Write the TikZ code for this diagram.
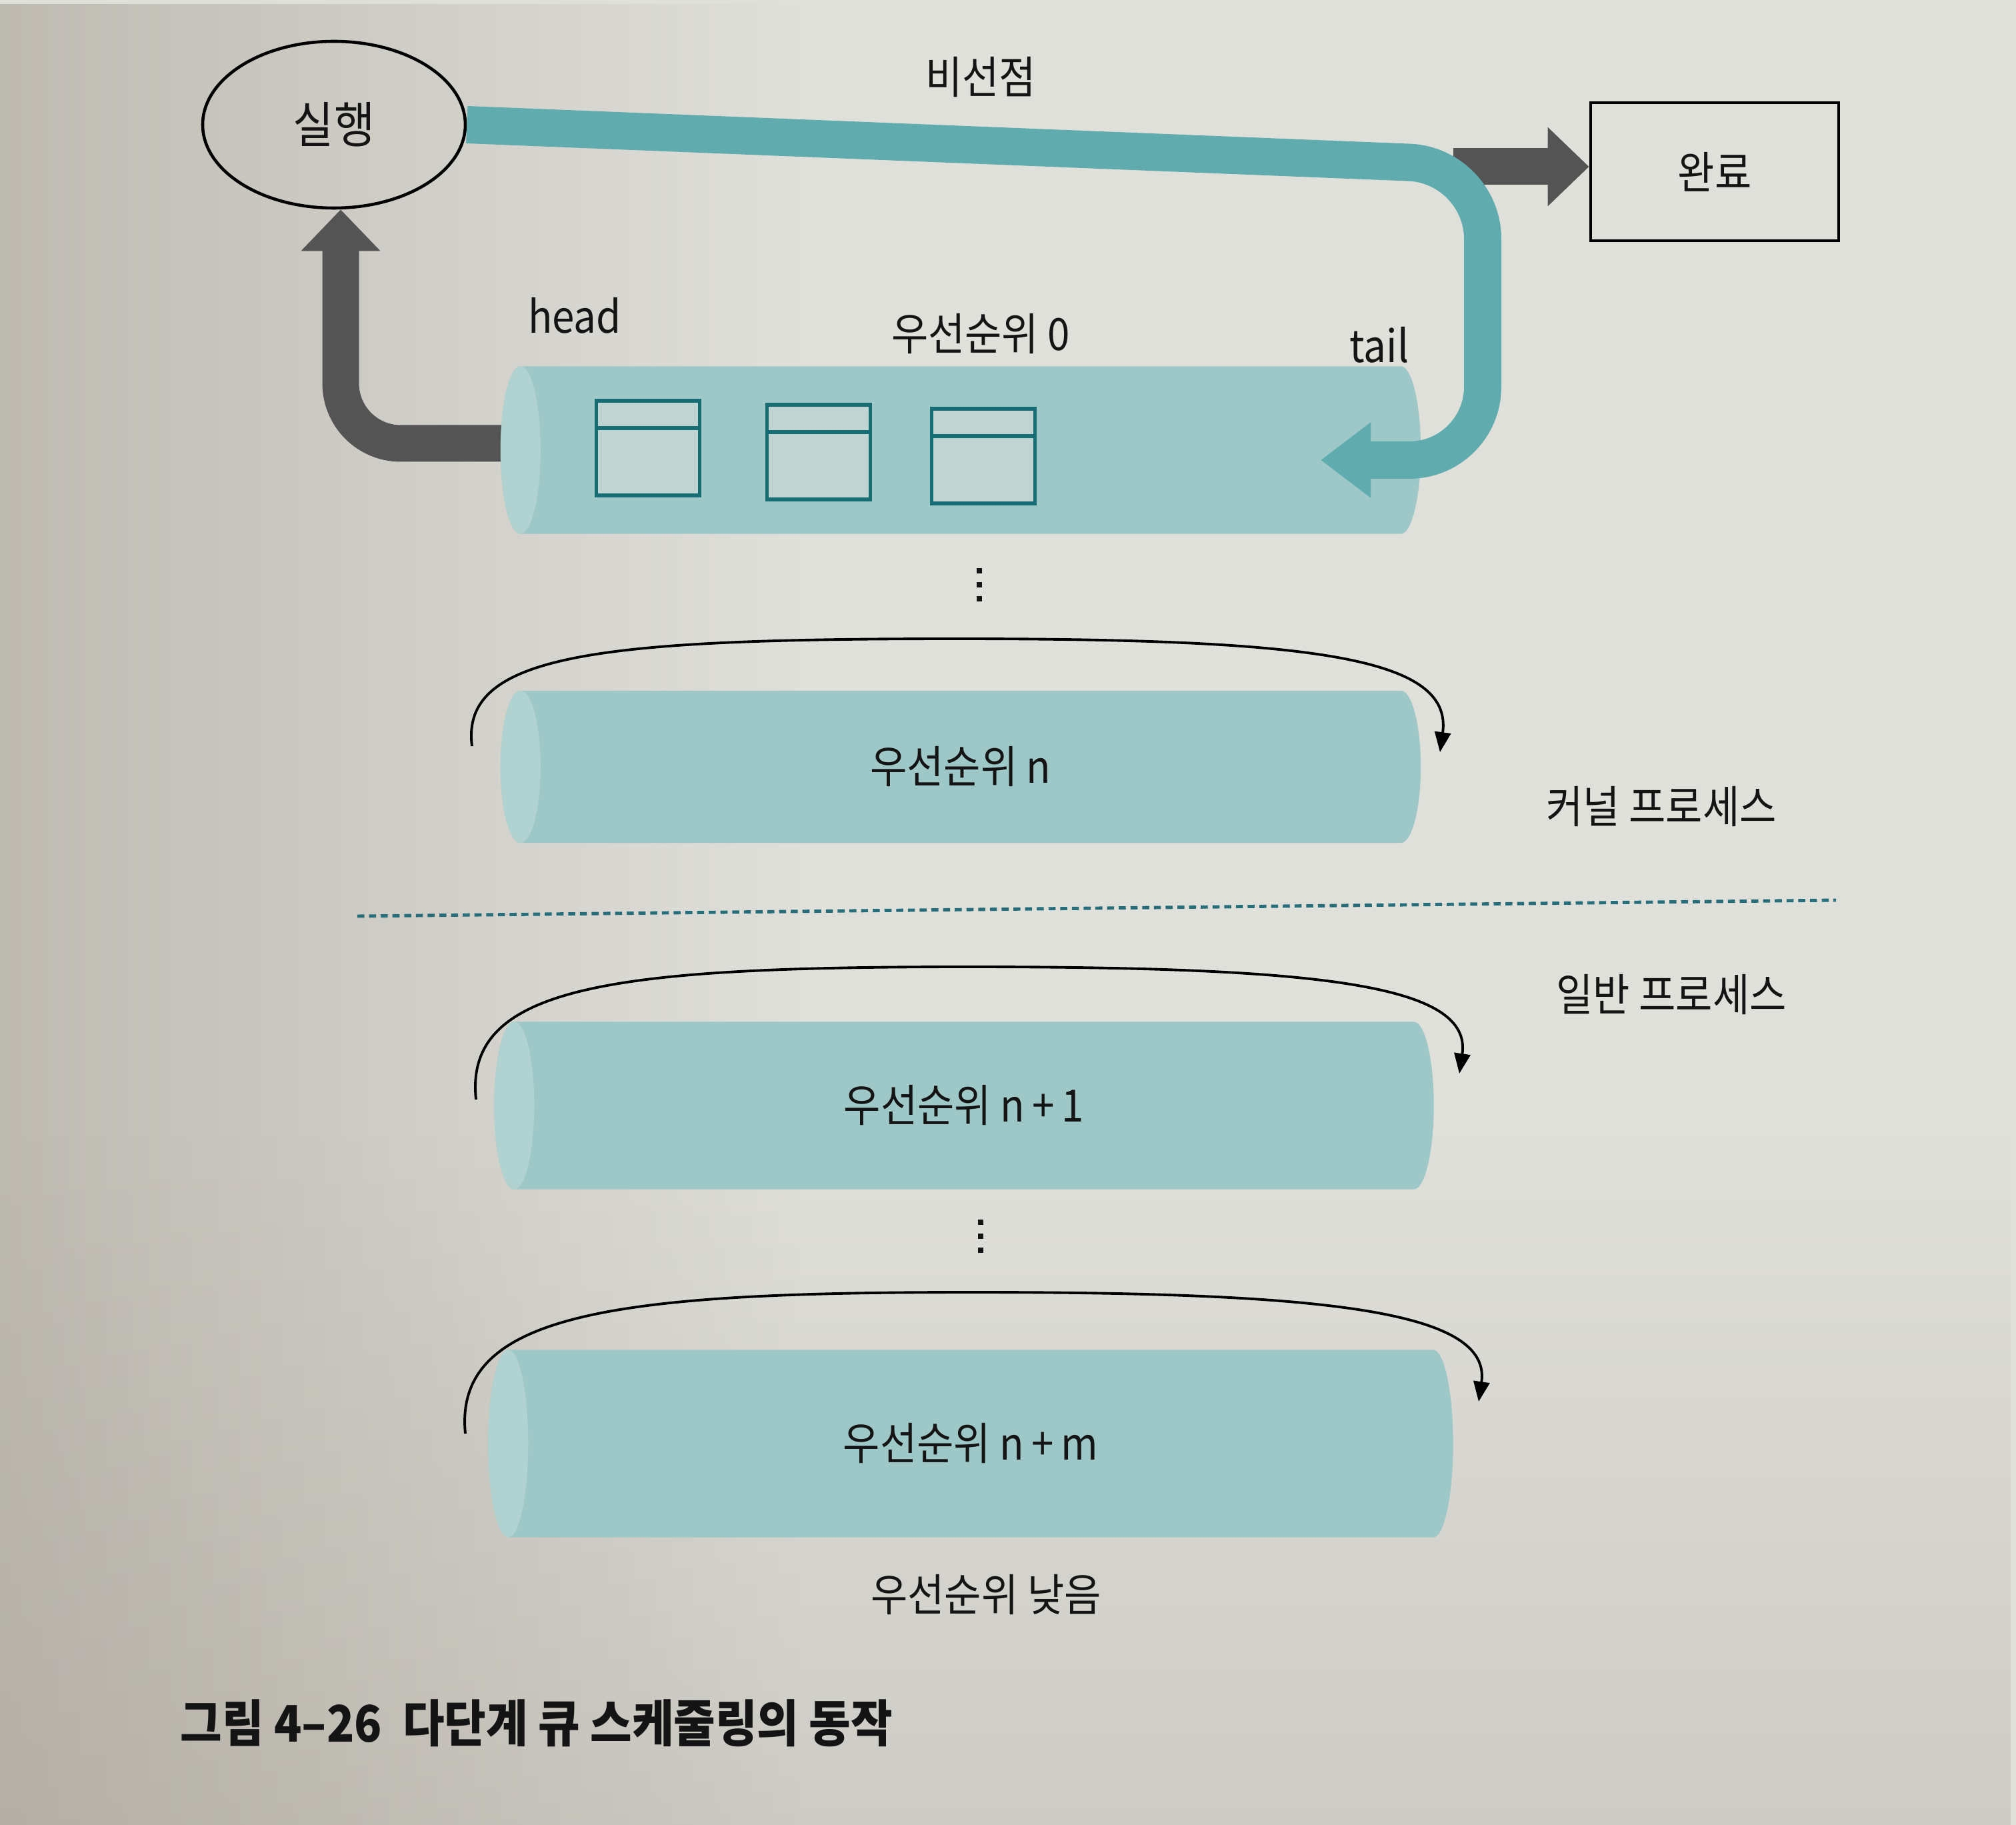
\documentclass[tikz,border=0pt]{standalone}
\usepackage{fontspec}
\setmainfont{Noto Sans CJK KR}[FakeStretch=0.9]
\usetikzlibrary{shapes.geometric,arrows.meta,calc,fadings}
\definecolor{paper}{RGB}{224,224,219}
\definecolor{shadow}{RGB}{150,142,130}
\definecolor{cylfill}{RGB}{158,199,199}
\definecolor{cylface}{RGB}{176,210,209}
\definecolor{tealpath}{RGB}{95,171,174}
\definecolor{darkarrow}{RGB}{84,84,84}
\definecolor{boxline}{RGB}{22,110,116}
\definecolor{boxfill}{RGB}{192,213,210}
\definecolor{dashcol}{RGB}{40,110,122}
\definecolor{txt}{RGB}{20,20,20}
% draws a horizontal cylinder around an (invisible) rectangular node
\newcommand\qcyl[1]{%
  \path let \p1=(#1.north west), \p2=(#1.south east), \n1={0.5*(\y1-\y2)} in
    [fill=cylfill] (\x1,\y1) -- (\x2,\y1)
      arc[start angle=90,end angle=-90,x radius=0.3cm,y radius=\n1]
      -- (\x1,\y2)
      arc[start angle=270,end angle=90,x radius=0.3cm,y radius=\n1] -- cycle;
  \path let \p1=(#1.north west), \p2=(#1.south east), \n1={0.5*(\y1-\y2)} in
    [fill=cylface] (\x1,\y1)
      arc[start angle=90,end angle=-90,x radius=0.3cm,y radius=\n1]
      arc[start angle=270,end angle=90,x radius=0.3cm,y radius=\n1] -- cycle;
}
\begin{document}
\begin{tikzpicture}[
  lbl/.style={font=\fontsize{19}{22}\selectfont, text=txt, inner sep=0pt},
  qbox/.style={draw=none, inner sep=0pt},
  slot/.style={draw=boxline, line width=1.6pt, fill=boxfill, minimum width=1.55cm, minimum height=1.42cm, inner sep=0pt},
  tealflow/.style={draw=tealpath, line width=0.56cm, rounded corners=1.1cm, -{Triangle[length=0.75cm,width=1.08cm]}},
  grayflow/.style={draw=darkarrow, line width=0.55cm, -{Triangle[length=0.62cm,width=1.15cm]}},
  cycarrow/.style={draw=black, line width=1.1pt, -{Triangle[length=0.3cm,width=0.24cm]}},
  dotsq/.style={fill=txt, draw=none, minimum size=0.085cm, inner sep=0pt}
]
% background / bounding box (paper with slightly darker left and bottom)
\fill[paper] (0,0) rectangle (30.24,-27.37);
\fill[shadow, fill opacity=0.45, path fading=east] (0,0) rectangle (12,-27.37);
\fill[shadow, fill opacity=0.25, path fading=north] (0,-27.37) rectangle (30.24,-17);
\useasboundingbox (0,0) rectangle (30.24,-27.37);

% nodes: run / done
\node[ellipse, draw=black, line width=1.3pt, minimum width=3.94cm, minimum height=2.5cm,
      font=\fontsize{21}{24}\selectfont, text=txt] (run) at (5.01,-1.87) {실행};
\node[draw=black, line width=1.4pt, minimum width=3.72cm, minimum height=2.07cm,
      font=\fontsize{19}{22}\selectfont, text=txt] (done) at (25.72,-2.575) {완료};

% queue 0 frame
\node[qbox, minimum width=13.19cm, minimum height=2.5cm] (q0) at (14.41,-6.75) {};

% gray arrow head -> run (behind queue 0)
\draw[grayflow, rounded corners=0.9cm] ([shift={(0.3,0.1)}]q0.west) -| ([xshift=0.1cm]run.south);

% queue 0 body and slots
\qcyl{q0}
\node[slot] (s1) at (9.72,-6.72) {};
\node[slot] (s2) at (12.28,-6.78) {};
\node[slot] (s3) at (14.75,-6.84) {};
\draw[boxline, line width=1.6pt] ([yshift=-0.44cm]s1.north west) -- ([yshift=-0.44cm]s1.north east);
\draw[boxline, line width=1.6pt] ([yshift=-0.44cm]s2.north west) -- ([yshift=-0.44cm]s2.north east);
\draw[boxline, line width=1.6pt] ([yshift=-0.44cm]s3.north west) -- ([yshift=-0.44cm]s3.north east);

% gray arrow to done
\coordinate (gstart) at (21.8,-2.5);
\draw[grayflow] (gstart) -- (gstart -| done.west);

% teal flow: run -> tail of queue 0
\coordinate (corner1) at (22.24,-2.48);
\coordinate (corner2) at (22.24,-6.9);
\coordinate (tailtip) at (19.81,-6.9);
\draw[tealflow] (run.east) -- (corner1) -- (corner2) -- (tailtip);

% labels top
\node[lbl] (nonpre) at (14.71,-1.16) {비선점};
\node[lbl] (headl) at (8.62,-4.73) {head};
\node[lbl] (p0) at (14.71,-5.01) {우선순위 0};
\node[lbl] (taill) at (20.69,-5.17) {tail};

% vertical dots
\node[dotsq] (d1a) at (14.69,-8.56) {};
\node[dotsq] (d1b) at (14.69,-8.77) {};
\node[dotsq] (d1c) at (14.69,-8.98) {};

% queue n
\node[qbox, minimum width=13.19cm, minimum height=2.27cm] (qn) at (14.41,-11.5) {};
\qcyl{qn}
\node[lbl] (qnl) at (qn.center) {우선순위 n};
\draw[cycarrow, shift={(qn.center)}] (-7.33,0.31) .. controls (-7.51,1.70) and (-5.41,1.92) .. (-0.07,1.92)
   .. controls (5.27,1.92) and (7.39,1.65) .. (7.19,0.22);
\node[lbl] (kernel) at (24.92,-12.09) {커널 프로세스};

% divider
\coordinate (dl) at (5.36,-13.74);
\coordinate (dr) at (27.54,-13.50);
\draw[dashcol, line width=1.4pt, dash pattern=on 3pt off 2pt] (dl) -- (dr);

\node[lbl] (user) at (25.07,-14.91) {일반 프로세스};

% queue n+1
\node[qbox, minimum width=13.48cm, minimum height=2.5cm] (qn1) at (14.46,-16.58) {};
\qcyl{qn1}
\node[lbl] (qn1l) at (qn1.center) {우선순위 n\,+\,1};
\draw[cycarrow, shift={(qn1.center)}] (-7.32,0.09) .. controls (-7.50,1.80) and (-5.29,2.08) .. (0.05,2.08)
   .. controls (5.39,2.08) and (7.63,1.81) .. (7.43,0.48);

% vertical dots
\node[dotsq] (d2a) at (14.71,-18.33) {};
\node[dotsq] (d2b) at (14.71,-18.54) {};
\node[dotsq] (d2c) at (14.71,-18.75) {};

% queue n+m
\node[qbox, minimum width=13.86cm, minimum height=2.8cm] (qnm) at (14.56,-21.65) {};
\qcyl{qnm}
\node[lbl] (qnml) at (qnm.center) {우선순위 n\,+\,m};
\draw[cycarrow, shift={(qnm.center)}] (-7.58,0.15) .. controls (-7.76,1.97) and (-5.32,2.27) .. (0.02,2.27)
   .. controls (5.36,2.27) and (7.82,1.99) .. (7.62,0.63);

\node[lbl] (low) at (14.79,-23.91) {우선순위 낮음};

% caption
\node[anchor=west, inner sep=0pt, text=txt, font=\fontsize{21.5}{24}\selectfont\bfseries] (caption) at (2.7,-25.84) {그림 4–26\ \ 다단계 큐 스케줄링의 동작};
\end{tikzpicture}
\end{document}
